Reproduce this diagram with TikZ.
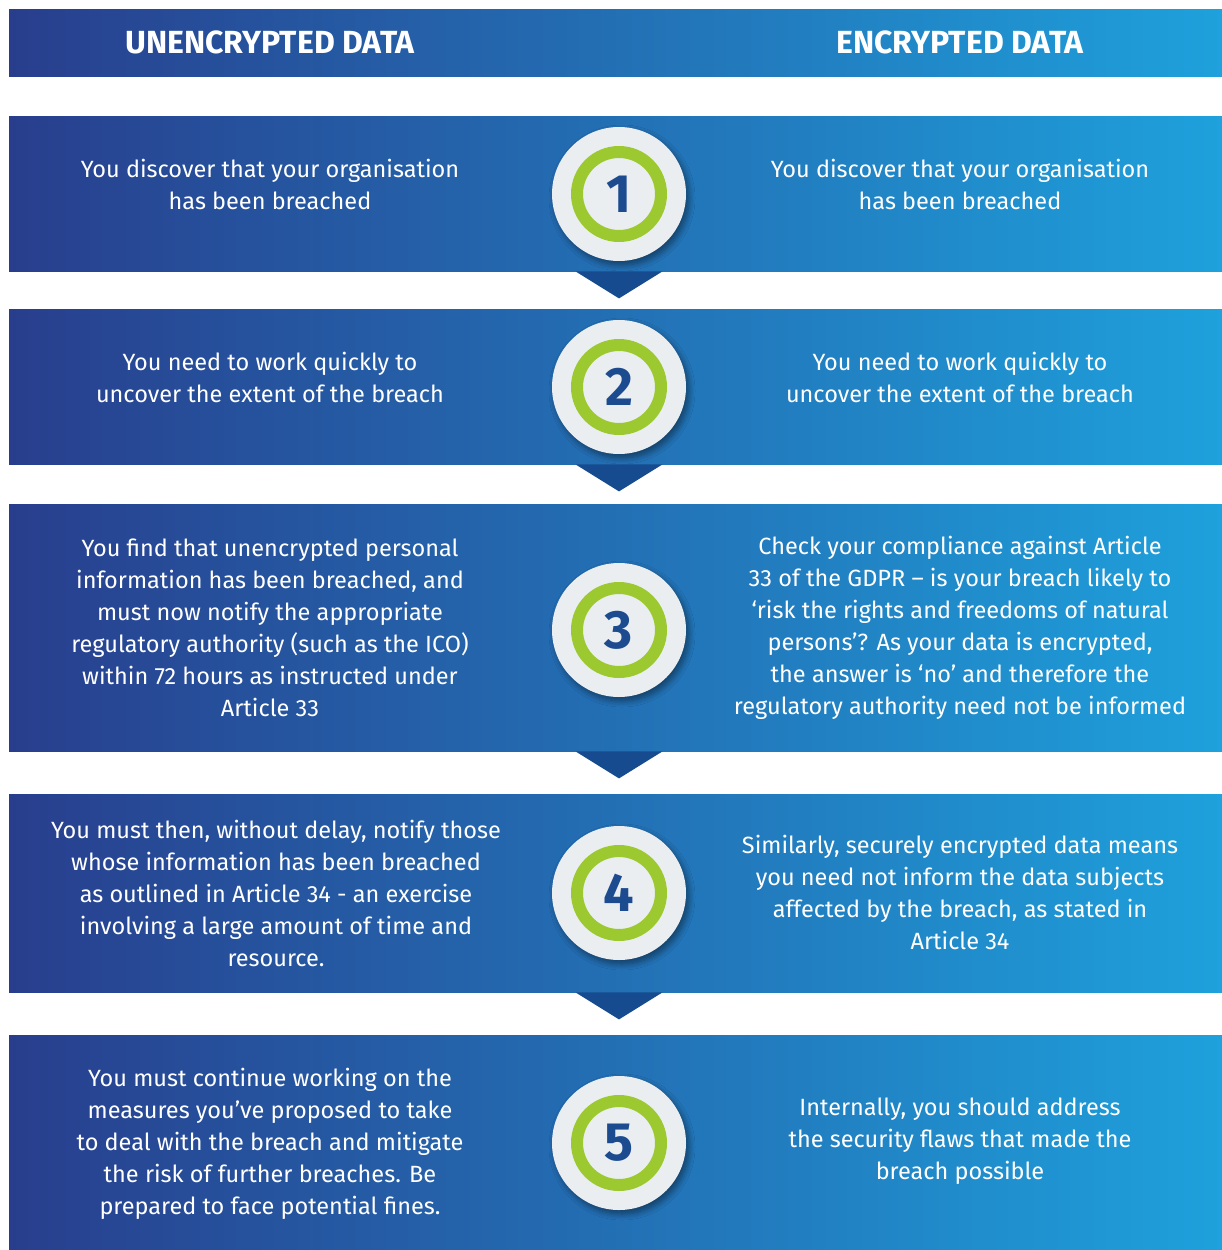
\documentclass[tikz,border=0pt]{standalone}
\usepackage{fontspec}
\setmainfont{Fira Sans}
\usetikzlibrary{calc,shadows.blur}

\definecolor{bandleft}{HTML}{283E8D}
\definecolor{bandmid}{HTML}{2467A9}
\definecolor{bandright}{HTML}{1EA1DC}
\definecolor{notchblue}{HTML}{164C8F}
\definecolor{badgegrey}{HTML}{EBEEF1}
\definecolor{ringgreen}{HTML}{9BC92F}
\definecolor{numblue}{HTML}{1C4B8F}

\tikzset{
  band/.style={rectangle, anchor=north west, inner sep=0pt, minimum width=1213pt,
    left color=bandleft, middle color=bandmid, right color=bandright},
  headtxt/.style={text=white, font=\fontsize{32}{34}\selectfont\bfseries},
  txt/.style={text=white, align=center, font=\fontsize{23.5}{32}\selectfont},
  badge/.style={circle, fill=badgegrey, minimum size=134pt, inner sep=0pt,
    text=numblue, font=\fontsize{54}{54}\selectfont\bfseries,
    blur shadow={shadow xshift=3pt, shadow yshift=-4pt, shadow blur steps=8,
      shadow opacity=45, shadow blur radius=6pt}},
  ring/.style={circle, draw=ringgreen, line width=12pt, minimum size=84pt, inner sep=0pt},
  notch/.style={fill=notchblue}
}

\begin{document}
\begin{tikzpicture}[x=1pt,y=-1pt]
  \useasboundingbox (0,0) rectangle (1222,1250);

  % column headings
  \node[band, minimum height=67pt] (head) at (9,9) {};
  \node[headtxt] (headL) at (270,42) {UNENCRYPTED DATA};
  \node[headtxt] (headR) at (960,42) {ENCRYPTED DATA};

  % the five steps
  \node[band, minimum height=155pt] (band1) at (9,116) {};
  \node[band, minimum height=155pt] (band2) at (9,309) {};
  \node[band, minimum height=247pt] (band3) at (9,504) {};
  \node[band, minimum height=198pt] (band4) at (9,794) {};
  \node[band, minimum height=215pt] (band5) at (9,1035) {};

  % notches under each band
  \foreach \b in {1,2,3,4}
    \fill[notch] ($(619,0 |- band\b.south)+(-43.5,0)$) -- ($(619,0 |- band\b.south)+(43.5,0)$)
      -- ($(619,0 |- band\b.south)+(0,27)$) -- cycle;

  % numbered badges
  \node[badge] (num1) at (619,194) {1};
  \node[badge] (num2) at (619,387) {2};
  \node[badge] (num3) at (619,630) {3};
  \node[badge] (num4) at (619,893) {4};
  \node[badge] (num5) at (619,1143) {5};
  \foreach \n in {1,...,5}
    \node[ring] (ring\n) at (num\n) {};

  % left column
  \node[txt] (left1) at (270,184) {You discover that your organisation\\has been breached};
  \node[txt] (left2) at (270,377) {You need to work quickly to\\uncover the extent of the breach};
  \node[txt] (left3) at (270,628) {You find that unencrypted personal\\information has been breached, and\\must now notify the appropriate\\regulatory authority (such as the ICO)\\within 72 hours as instructed under\\Article 33};
  \node[txt] (left4) at (276,893) {You must then, without delay, notify those\\whose information has been breached\\as outlined in Article 34 - an exercise\\involving a large amount of time and\\resource.};
  \node[txt] (left5) at (270,1144) {You must continue working on the\\measures you’ve proposed to take\\to deal with the breach and mitigate\\the risk of further breaches. Be\\prepared to face potential fines.};

  % right column
  \node[txt] (right1) at (960,184) {You discover that your organisation\\has been breached};
  \node[txt] (right2) at (960,377) {You need to work quickly to\\uncover the extent of the breach};
  \node[txt] (right3) at (960,628) {Check your compliance against Article\\33 of the GDPR – is your breach likely to\\‘risk the rights and freedoms of natural\\persons’? As your data is encrypted,\\the answer is ‘no’ and therefore the\\regulatory authority need not be informed};
  \node[txt] (right4) at (960,892) {Similarly, securely encrypted data means\\you need not inform the data subjects\\affected by the breach, as stated in\\Article 34};
  \node[txt] (right5) at (960,1141) {Internally, you should address\\the security flaws that made the\\breach possible};
\end{tikzpicture}
\end{document}
